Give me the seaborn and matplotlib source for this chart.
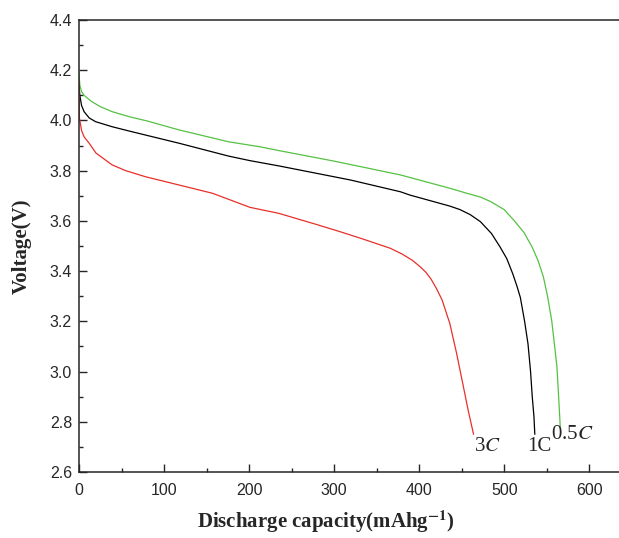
"""
Discharge curves at 0.5C, 1C and 3C
"""

import pandas as pd
import matplotlib.pyplot as plt
import seaborn as sns
from matplotlib.ticker import MultipleLocator

# %%
# capacity (mAh/g) and voltage (V)
cap_05c = [0, 1, 3, 6, 15, 25, 39, 59, 80, 118, 176, 213, 235, 300, 378, 436,
           456, 472, 484, 500, 511, 523, 533, 540, 546, 551, 556, 559, 562,
           564, 566]
volt_05c = [4.19, 4.14, 4.115, 4.10, 4.075, 4.055, 4.035, 4.015, 3.998, 3.962,
            3.915, 3.895, 3.880, 3.838, 3.783, 3.730, 3.710, 3.695, 3.677,
            3.645, 3.604, 3.555, 3.495, 3.44, 3.378, 3.30, 3.20, 3.11, 3.02,
            2.90, 2.775]

cap_1c = [0, 1, 3, 6, 12, 19.6, 39, 60, 118, 176, 201, 235, 319, 378, 389,
          436, 448, 460, 472, 485, 495, 503, 510, 515, 519, 524, 528, 531,
          533, 535, 536]
volt_1c = [4.14, 4.10, 4.06, 4.035, 4.01, 3.995, 3.975, 3.957, 3.909, 3.858,
           3.840, 3.819, 3.763, 3.716, 3.703, 3.659, 3.645, 3.625, 3.597, 3.55,
           3.497, 3.45, 3.39, 3.34, 3.295, 3.20, 3.11, 3.00, 2.90, 2.82, 2.75]

cap_3c = [0, 0.5, 3, 6, 11.8, 20, 39, 55, 78, 157, 201, 235, 280, 307, 331,
          366, 380, 392, 401, 408, 414, 420, 427, 436, 444, 452, 458, 464]
volt_3c = [4.16, 4.01, 3.96, 3.935, 3.91, 3.87, 3.823, 3.80, 3.776, 3.710,
           3.654, 3.630, 3.585, 3.557, 3.531, 3.491, 3.468, 3.443, 3.418,
           3.395, 3.368, 3.333, 3.285, 3.192, 3.073, 2.94, 2.84, 2.75]

rates = ["0.5C", "1C", "3C"]
colors = {"0.5C": "#55c143", "1C": "#000000", "3C": "#e8302a"}

df = pd.concat(
    [
        pd.DataFrame({"capacity": cap_05c, "voltage": volt_05c, "rate": "0.5C"}),
        pd.DataFrame({"capacity": cap_1c, "voltage": volt_1c, "rate": "1C"}),
        pd.DataFrame({"capacity": cap_3c, "voltage": volt_3c, "rate": "3C"}),
    ],
    ignore_index=True,
)

# %%
sns.set_style("ticks")
plt.rcParams["font.family"] = ["Liberation Sans", "DejaVu Sans"]
plt.rcParams["mathtext.fontset"] = "stix"

fig = plt.figure(figsize=(6.19, 5.38), dpi=100)
ax = fig.add_axes([0.1276, 0.1227, 0.8724, 0.8401])

sns.lineplot(
    data=df, x="capacity", y="voltage", hue="rate", palette=colors,
    hue_order=rates, sort=False, estimator=None, linewidth=0.9,
    legend=False, ax=ax,
)

ax.set_xlim(0, 635)
ax.set_ylim(2.6, 4.4)
ax.xaxis.set_major_locator(MultipleLocator(100))
ax.xaxis.set_minor_locator(MultipleLocator(50))
ax.yaxis.set_major_locator(MultipleLocator(0.2))
ax.yaxis.set_minor_locator(MultipleLocator(0.1))
ax.yaxis.set_major_formatter(plt.FormatStrFormatter("%.1f"))

ax.tick_params(which="both", direction="in", top=False, right=False,
               labelsize=11.5, width=1.0)
ax.tick_params(which="major", length=6)
ax.tick_params(which="minor", length=3)
ax.tick_params(axis="x", pad=8)
ax.tick_params(axis="y", pad=5)

ax.spines["right"].set_visible(False)
for s in ["left", "bottom", "top"]:
    ax.spines[s].set_linewidth(1.1)

serif = ["Liberation Serif", "DejaVu Serif"]
ax.set_xlabel(r"Discharge capacity(mAhg$^{\mathbf{-1}}$)", family=serif,
              fontweight="bold", fontsize=15)
ax.set_ylabel("Voltage(V)", family=serif, fontweight="bold", fontsize=15)
ax.xaxis.set_label_coords(0.457, -0.082)
ax.yaxis.set_label_coords(-0.087, 0.5)

# rate labels at the end of each curve
ax.text(464, 2.70, r"3$\mathit{C}$", family=serif, fontsize=15, va="center")
ax.text(527, 2.70, "1C", family=serif, fontsize=15, va="center")
ax.text(555, 2.75, r"0.5$\mathit{C}$", family=serif, fontsize=15, va="center")

fig.savefig("out.png", dpi=100)
